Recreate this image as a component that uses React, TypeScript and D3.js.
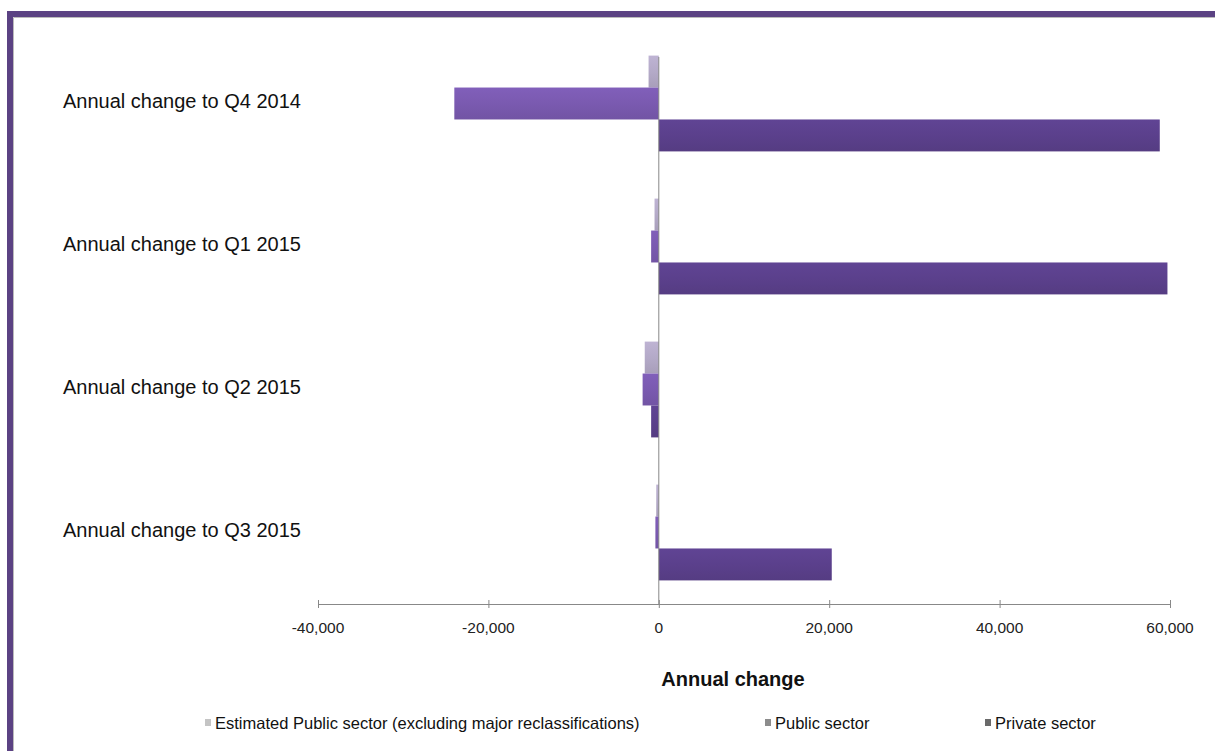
import React from "react";
import * as d3 from "d3";

const categories = [
  "Annual change to Q4 2014",
  "Annual change to Q1 2015",
  "Annual change to Q2 2015",
  "Annual change to Q3 2015",
];
const seriesNames = [
  "Estimated Public sector (excluding major reclassifications)",
  "Public sector",
  "Private sector",
];
const estimatedPublic = [-1200, -500, -1650, -300];
const publicSector = [-24000, -900, -1900, -400];
const privateSector = [58800, 59700, -900, 20300];
const xTicks = [-40000, -20000, 0, 20000, 40000, 60000];

const seriesValues = [estimatedPublic, publicSector, privateSector];
const seriesColors = ["#b4aac8", "#7a5ab0", "#5b408c"];
const legendSwatch = ["#c4c4c4", "#8c8c8c", "#6a6a6a"];

export default function App() {
  const W = 1215;
  const H = 751;
  const x = d3.scaleLinear().domain([-40000, 60000]).range([318, 1170]);
  const y = d3.scaleBand<string>().domain(categories).range([32, 604]).paddingInner(0.33).paddingOuter(0.165);
  const inner = d3.scaleBand<number>().domain([0, 1, 2]).range([0, y.bandwidth()]);
  const fmt = d3.formatLocale({ decimal: ".", thousands: ",", grouping: [3], currency: ["", ""], minus: "-" }).format(",");
  const font = "Liberation Sans, Arial, sans-serif";
  const legendX = [205, 765, 985];

  return (
    <svg width={W} height={H} style={{ position: "absolute", left: 0, top: 0, background: "#fff" }} fontFamily={font}>
      <defs>
        {seriesColors.map((c, i) => (
          <linearGradient key={i} id={`g${i}`} x1="0" y1="0" x2="0" y2="1">
            <stop offset="0" stopColor={d3.color(c)!.brighter(0.15).toString()} />
            <stop offset="0.5" stopColor={c} />
            <stop offset="1" stopColor={d3.color(c)!.darker(0.2).toString()} />
          </linearGradient>
        ))}
      </defs>
      <rect x={0} y={0} width={W} height={H} fill="#fff" />
      <rect x={10} y={14} width={1230} height={760} fill="none" stroke="#5b4283" strokeWidth={6} />
      <line x1={13.5} y1={17.5} x2={1215} y2={17.5} stroke="#bbb" strokeWidth={1} />
      <line x1={13.5} y1={17.5} x2={13.5} y2={751} stroke="#bbb" strokeWidth={1} />

      {categories.map((c, ci) =>
        seriesValues.map((vals, si) => {
          const v = vals[ci];
          const x0 = x(Math.min(0, v));
          const x1 = x(Math.max(0, v));
          return (
            <rect
              key={`${ci}-${si}`}
              x={x0}
              y={(y(c) as number) + (inner(si) as number)}
              width={Math.max(1, x1 - x0)}
              height={inner.bandwidth()}
              fill={`url(#g${si})`}
            />
          );
        })
      )}

      <line x1={x(0)} y1={57} x2={x(0)} y2={604} stroke="#888" strokeWidth={1} />
      <line x1={318} y1={604.5} x2={1170} y2={604.5} stroke="#888" strokeWidth={1} />
      {xTicks.map((t) => (
        <g key={t}>
          <line x1={x(t) + 0.5} x2={x(t) + 0.5} y1={600} y2={608} stroke="#888" />
          <text x={x(t)} y={633} textAnchor="middle" fontSize={15.5} fill="#222">
            {fmt(t)}
          </text>
        </g>
      ))}

      {categories.map((c) => (
        <text key={c} x={63} y={(y(c) as number) + y.bandwidth() / 2 - 1} fontSize={20} fill="#111" dominantBaseline="middle">
          {c}
        </text>
      ))}

      <text x={733} y={686} textAnchor="middle" fontSize={20} fontWeight="bold" fill="#111">
        Annual change
      </text>

      {seriesNames.map((n, i) => (
        <g key={n}>
          <rect x={legendX[i]} y={719} width={6} height={7} fill={legendSwatch[i]} />
          <text x={legendX[i] + 10} y={729} fontSize={16.5} fill="#111">
            {n}
          </text>
        </g>
      ))}
    </svg>
  );
}
